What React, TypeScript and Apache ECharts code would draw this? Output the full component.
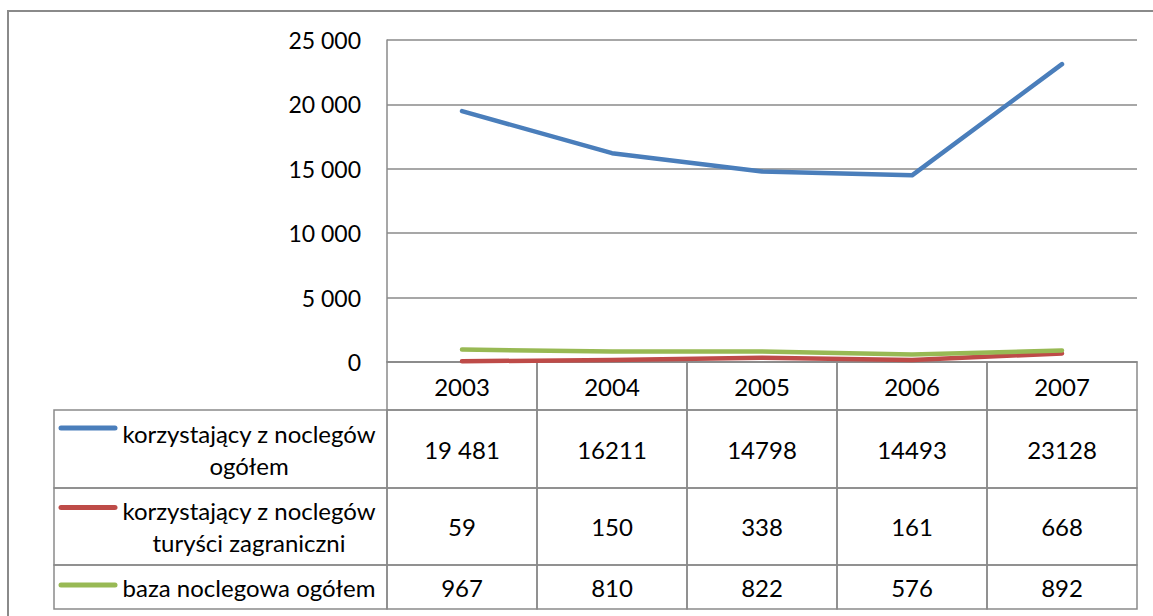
import React, { useEffect, useRef } from "react";
import * as echarts from "echarts";

const years = ["2003", "2004", "2005", "2006", "2007"];
const seriesNames = [
  "korzystający z noclegów ogółem",
  "korzystający z noclegów turyści zagraniczni",
  "baza noclegowa ogółem",
];
const tableLabels = [
  "korzystający z noclegów\nogółem",
  "korzystający z noclegów\nturyści zagraniczni",
  "baza noclegowa ogółem",
];
const totalGuests = [19481, 16211, 14798, 14493, 23128];
const foreignGuests = [59, 150, 338, 161, 668];
const accommodation = [967, 810, 822, 576, 892];
const totalGuestsText = ["19 481", "16211", "14798", "14493", "23128"];
const foreignGuestsText = ["59", "150", "338", "161", "668"];
const accommodationText = ["967", "810", "822", "576", "892"];

const colors = ["#4A7EBB", "#BE4B48", "#98B954"];
const FONT = "Lato";
const FS = 24;
const BORDER = "#8a8a8a";

export default function App() {
  const ref = useRef<HTMLDivElement>(null);
  useEffect(() => {
    if (!ref.current) return;
    const chart = echarts.init(ref.current, undefined, { renderer: "svg" });
    const rowHeights = [48, 78, 77, 44];
    const rowTexts = [totalGuestsText, foreignGuestsText, accommodationText];
    const tableLeft = 54;
    const legendLineX1 = 61;
    const legendLineX2 = 115;
    const legendTextX = 249;
    const lineOffsets = [-21, -19, -2];

    const option: any = {
      animation: false,
      grid: { left: 387, top: 40, right: 16, bottom: 254, containLabel: false },
      xAxis: {
        type: "category",
        data: years,
        boundaryGap: true,
        axisLine: { show: true, lineStyle: { color: BORDER, width: 1.5 } },
        axisTick: { show: false },
        axisLabel: { show: false },
        splitLine: { show: false },
      },
      yAxis: {
        type: "value",
        min: 0,
        max: 25000,
        interval: 5000,
        axisLine: { show: true, lineStyle: { color: BORDER, width: 1.5 } },
        axisTick: { show: false },
        axisLabel: {
          margin: 26,
          color: "#000",
          fontSize: 23,
          fontFamily: FONT,
          formatter: (v: number) => (v >= 1000 ? `${Math.floor(v / 1000)} ${String(v % 1000).padStart(3, "0")}` : String(v)),
        },
        splitLine: { show: true, lineStyle: { color: BORDER, width: 1.5 } },
      },
      graphic: [
        {
          type: "rect",
          shape: { x: 8, y: 11, width: 1300, height: 800 },
          style: { fill: "none", stroke: BORDER, lineWidth: 2 },
          silent: true,
        },
      ],
      series: [
        ...[totalGuests, foreignGuests, accommodation].map((d, i) => ({
          type: "line",
          name: seriesNames[i],
          data: d,
          symbol: "none",
          lineStyle: { color: colors[i], width: 4.5, cap: "round", join: "round" },
          itemStyle: { color: colors[i] },
          z: 3,
        })),
        {
          type: "custom",
          name: "table",
          clip: false,
          silent: true,
          data: years.map((_, i) => [i, 0]),
          encode: { x: 0, y: 1 },
          renderItem: (params: any, api: any) => {
            const idx = api.value(0);
            const c = api.coord([idx, 0]);
            const w = api.size([1, 0])[0];
            const x0 = c[0] - w / 2;
            const children: any[] = [];
            let y = c[1];
            rowHeights.forEach((h, r) => {
              children.push({
                type: "rect",
                shape: { x: x0, y, width: w, height: h },
                style: { fill: "none", stroke: BORDER, lineWidth: 1.5 },
              });
              const txt = r === 0 ? years[idx] : rowTexts[r - 1][idx];
              children.push({
                type: "text",
                x: c[0],
                y: y + h / 2,
                style: {
                  text: txt,
                  align: "center",
                  verticalAlign: "middle",
                  fontSize: FS,
                  fontFamily: FONT,
                  fill: "#000",
                },
              });
              if (idx === 0 && r > 0) {
                children.push({
                  type: "rect",
                  shape: { x: tableLeft, y, width: x0 - tableLeft, height: h },
                  style: { fill: "none", stroke: BORDER, lineWidth: 1.5 },
                });
                const ly = y + h / 2 + lineOffsets[r - 1];
                children.push({
                  type: "line",
                  shape: { x1: legendLineX1, y1: ly, x2: legendLineX2, y2: ly },
                  style: { stroke: colors[r - 1], lineWidth: 5, lineCap: "round" },
                });
                children.push({
                  type: "text",
                  x: legendTextX,
                  y: y + h / 2,
                  style: {
                    text: tableLabels[r - 1],
                    align: "center",
                    verticalAlign: "middle",
                    fontSize: FS,
                    fontFamily: FONT,
                    lineHeight: 32,
                    fill: "#000",
                  },
                });
              }
              y += h;
            });
            return { type: "group", children };
          },
          z: 2,
        },
      ],
    };
    chart.setOption(option);
    return () => chart.dispose();
  }, []);
  return (
    <div
      ref={ref}
      style={{ position: "fixed", left: 0, top: 0, width: 1153, height: 616, background: "#fff" }}
    />
  );
}
